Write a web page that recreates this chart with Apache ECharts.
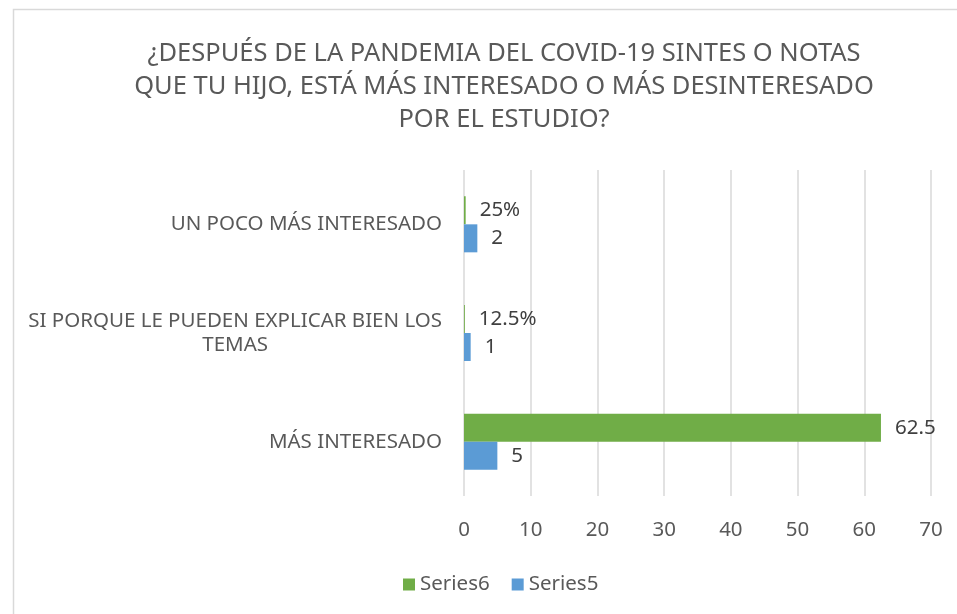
<!DOCTYPE html>
<html>
<head>
<meta charset="utf-8">
<script src="https://cdn.jsdelivr.net/npm/echarts@6/dist/echarts.min.js"></script>
<style>
    html, body { margin: 0; padding: 0; background: #fff; }
    #chart { width: 957px; height: 614px; }
</style>
</head>
<body>
<div id="chart"></div>
<script>
    // datos
    var categories = ['MÁS INTERESADO', 'SI PORQUE LE PUEDEN EXPLICAR BIEN LOS\nTEMAS', 'UN POCO MÁS INTERESADO'];
    var series6Values = [62.5, 0.125, 0.25];
    var series6Labels = ['62.5', '12.5%', '25%'];
    var series5Values = [5, 1, 2];
    var xTicks = [0, 70, 10];  // min, max, interval

    var titleText = '¿DESPUÉS DE LA PANDEMIA DEL COVID-19 SINTES O NOTAS\nQUE TU HIJO, ESTÁ MÁS INTERESADO O MÁS DESINTERESADO\nPOR EL ESTUDIO?';
    var font = 'Noto Sans';
    var fs = 20.5;

    var myChart = echarts.init(document.getElementById('chart'));
    var option = {
        backgroundColor: '#fff',
        textStyle: { fontFamily: font },
        title: {
            text: titleText,
            left: 499,
            top: 32,
            textAlign: 'center',
            textStyle: {
                fontFamily: font,
                fontSize: 25.5,
                fontWeight: 'normal',
                color: '#595959',
                lineHeight: 33
            }
        },
        graphic: [{
            type: 'rect',
            left: 11,
            top: 7,
            shape: { width: 1000, height: 700 },
            style: { fill: 'none', stroke: '#d9d9d9', lineWidth: 1.5 },
            silent: true
        }],
        legend: {
            data: ['Series6', 'Series5'],
            left: 398,
            top: 569,
            icon: 'rect',
            itemWidth: 12,
            itemHeight: 12,
            itemGap: 22,
            textStyle: { fontFamily: font, fontSize: fs, color: '#595959' }
        },
        grid: {
            left: 464,
            right: 26,
            top: 170,
            bottom: 118,
            containLabel: false
        },
        xAxis: {
            type: 'value',
            min: xTicks[0],
            max: xTicks[1],
            interval: xTicks[2],
            axisLine: { show: false },
            axisTick: { show: false },
            splitLine: { lineStyle: { color: '#d9d9d9', width: 1.5 } },
            axisLabel: { fontFamily: font, fontSize: fs, color: '#595959', margin: 24 }
        },
        yAxis: {
            type: 'category',
            data: categories,
            axisLine: { show: false },
            axisTick: { show: false },
            axisLabel: {
                margin: 22,
                formatter: function (v) {
                    return v.split('\n').map(function (s) { return '{c|' + s + '}'; }).join('\n');
                },
                rich: {
                    c: { fontFamily: font, fontSize: fs, color: '#595959', align: 'center', lineHeight: 24 }
                }
            }
        },
        series: [
            {
                name: 'Series6',
                type: 'bar',
                data: series6Values,
                barWidth: 28,
                barGap: '0%',
                itemStyle: { color: '#70ad47' },
                label: {
                    show: true,
                    position: 'right',
                    distance: 14,
                    fontFamily: font,
                    fontSize: fs,
                    color: '#404040',
                    formatter: function (p) { return series6Labels[p.dataIndex]; }
                }
            },
            {
                name: 'Series5',
                type: 'bar',
                data: series5Values,
                barWidth: 28,
                barGap: '0%',
                itemStyle: { color: '#5b9bd5' },
                label: {
                    show: true,
                    position: 'right',
                    distance: 14,
                    fontFamily: font,
                    fontSize: fs,
                    color: '#404040'
                }
            }
        ]
    };
    myChart.setOption(option);
</script>
</body>
</html>
